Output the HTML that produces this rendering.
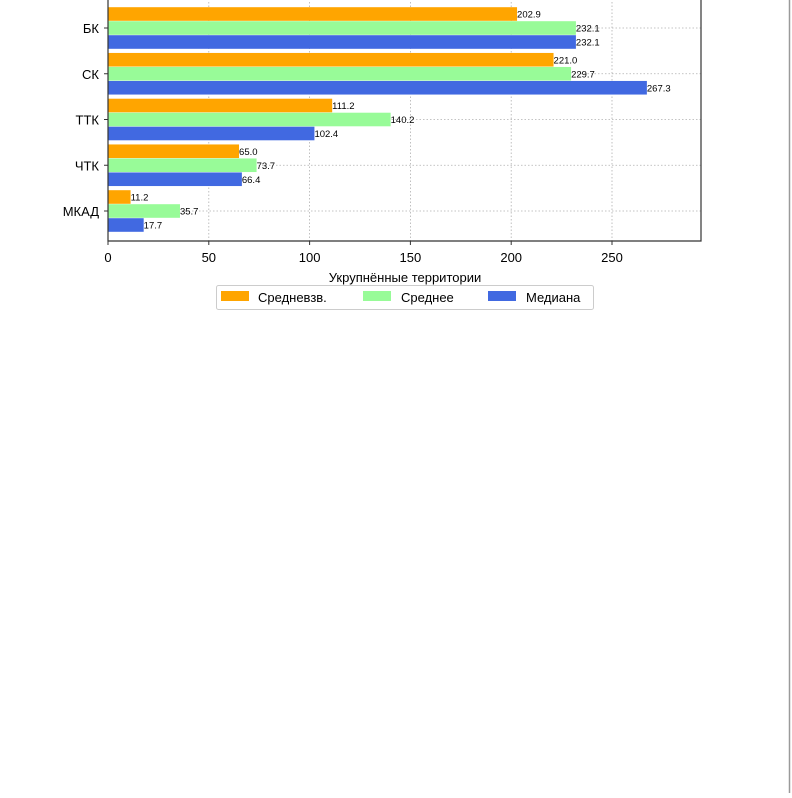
<!DOCTYPE html>
<html><head><meta charset="utf-8"><style>
body{margin:0;background:#fff;width:792px;height:793px;overflow:hidden}
svg{font-family:"Liberation Sans","DejaVu Sans",sans-serif}
</style></head><body>
<svg id="chart" width="792" height="793" xmlns="http://www.w3.org/2000/svg">
<line x1="789.5" y1="0" x2="789.5" y2="793" stroke="#9a9a9a" stroke-width="1.5"/>
<g id="grid"></g><g id="bars"></g><g id="labels"></g><g id="axes"></g>
<g>
<rect x="216.5" y="285.5" width="377" height="24" fill="#fff" stroke="#ccc" rx="2"/>
<rect x="221" y="291" width="28" height="10" fill="#FFA500"/>
<text x="258" y="302" font-size="13">Средневзв.</text>
<rect x="363" y="291" width="28" height="10" fill="#98FB98"/>
<text x="401" y="302" font-size="13">Среднее</text>
<rect x="488" y="291" width="28" height="10" fill="#4169E1"/>
<text x="526" y="302" font-size="13">Медиана</text>
</g>
<text x="405" y="282" font-size="13" text-anchor="middle">Укрупнённые территории</text>
</svg>
<script>
const categories=["МКАД","ЧТК","ТТК","СК","БК"];
const weighted=[11.2,65.0,111.2,221.0,202.9];
const meanVals=[35.7,73.7,140.2,229.7,232.1];
const median=[17.7,66.4,102.4,267.3,232.1];
const xTicks=[0,50,100,150,200,250];
const NS="http://www.w3.org/2000/svg";
const x=v=>108+v*2.016;
const y=i=>211-i*45.75;
const L=108,R=701,B=241,T=-5;
function mk(t,a,p){const e=document.createElementNS(NS,t);for(const k in a)e.setAttribute(k,a[k]);p.appendChild(e);return e;}
const grid=document.getElementById('grid'),bars=document.getElementById('bars'),labels=document.getElementById('labels'),axes=document.getElementById('axes');
xTicks.forEach(v=>{
 const g=mk('line',{x1:x(v),x2:x(v),y1:T,y2:B,stroke:'#b0b0b0','stroke-dasharray':'1.5,2','stroke-width':0.8},grid);
 
 
 const t=mk('line',{x1:x(v),x2:x(v),y1:B,y2:B+4,stroke:'#333'},axes);
 
 
 const tx=mk('text',{x:x(v),y:B+21,'font-size':13,'text-anchor':'middle'},axes);tx.textContent=v;
 
 
});
const series=[[weighted,'#FFA500',-14,'weighted'],[meanVals,'#98FB98',0,'mean'],[median,'#4169E1',14,'median']];
categories.forEach((c,i)=>{
 const g=mk('line',{x1:L,x2:R,y1:y(i),y2:y(i),stroke:'#b0b0b0','stroke-dasharray':'1.5,2','stroke-width':0.8},grid);
 
 
 const t=mk('line',{x1:L-4,x2:L,y1:y(i),y2:y(i),stroke:'#333'},axes);
 
 
 const tl=mk('text',{x:L-9,y:y(i)+5,'font-size':13,'text-anchor':'end'},axes);tl.textContent=c;
 
 
 series.forEach(([arr,col,off,nm])=>{
  const v=arr[i],cy=y(i)+off;
  const r=mk('rect',{x:x(0),y:cy-6.8,width:x(v)-x(0),height:13.6,fill:col},bars);
  
  
  const lt=mk('text',{x:x(v),y:cy+3.5,'font-size':9.5},labels);lt.textContent=v.toFixed(1);
  
  
 });
});
mk('polyline',{points:`${L},${T} ${L},${B} ${R},${B} ${R},${T}`,fill:'none',stroke:'#333','stroke-width':1.2},axes);
</script>
</body></html>
